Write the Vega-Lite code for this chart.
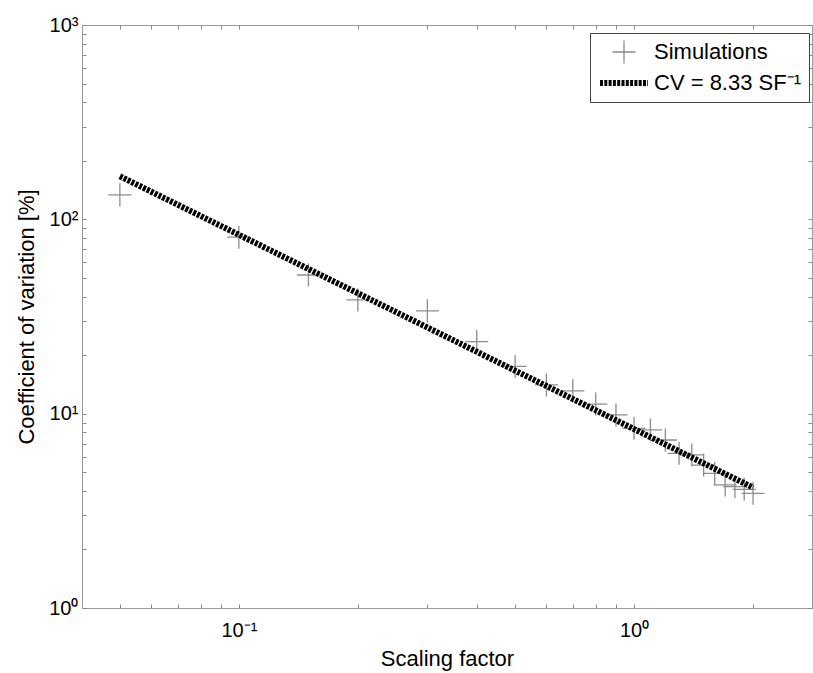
{
  "$schema": "https://vega.github.io/schema/vega-lite/v6.json",
  "width": 730,
  "height": 583,
  "autosize": {"type": "none"},
  "padding": {"left": 82, "top": 25, "right": 1, "bottom": 65},
  "background": "white",
  "config": {
    "view": {"stroke": "#9a9a9a", "strokeWidth": 1},
    "font": "Liberation Sans",
    "axis": {
      "grid": false,
      "domainColor": "#9a9a9a",
      "tickColor": "#8a8a8a",
      "tickSize": -4,
      "labelFont": "Liberation Sans",
      "labelFontSize": 20,
      "labelColor": "#000000",
      "labelOverlap": false,
      "labelFlush": false,
      "labelBound": false,
      "titleFont": "Liberation Sans",
      "titleFontSize": 22,
      "titleFontWeight": "normal",
      "titleColor": "#000000"
    }
  },
  "datasets": {
    "sim": [
      {"sf": 0.05, "cv": 133.6, "series": "Simulations"},
      {"sf": 0.1, "cv": 80.9, "series": "Simulations"},
      {"sf": 0.15, "cv": 51.7, "series": "Simulations"},
      {"sf": 0.2, "cv": 38.5, "series": "Simulations"},
      {"sf": 0.3, "cv": 33.8, "series": "Simulations"},
      {"sf": 0.4, "cv": 23.5, "series": "Simulations"},
      {"sf": 0.5, "cv": 17.5, "series": "Simulations"},
      {"sf": 0.6, "cv": 14.05, "series": "Simulations"},
      {"sf": 0.7, "cv": 13.1, "series": "Simulations"},
      {"sf": 0.8, "cv": 11.2, "series": "Simulations"},
      {"sf": 0.9, "cv": 9.85, "series": "Simulations"},
      {"sf": 1.0, "cv": 8.41, "series": "Simulations"},
      {"sf": 1.1, "cv": 8.25, "series": "Simulations"},
      {"sf": 1.2, "cv": 7.32, "series": "Simulations"},
      {"sf": 1.3, "cv": 6.25, "series": "Simulations"},
      {"sf": 1.4, "cv": 6.13, "series": "Simulations"},
      {"sf": 1.5, "cv": 5.44, "series": "Simulations"},
      {"sf": 1.6, "cv": 4.93, "series": "Simulations"},
      {"sf": 1.7, "cv": 4.3, "series": "Simulations"},
      {"sf": 1.8, "cv": 4.21, "series": "Simulations"},
      {"sf": 1.9, "cv": 4.08, "series": "Simulations"},
      {"sf": 2.0, "cv": 3.89, "series": "Simulations"}
    ],
    "fit": [
      {"sf": 0.05, "cv": 166.6, "series": "CV = 8.33 SF⁻¹"},
      {"sf": 2.0, "cv": 4.165, "series": "CV = 8.33 SF⁻¹"}
    ]
  },
  "layer": [
    {
      "data": {"name": "sim"},
      "mark": {"type": "point", "filled": false, "size": 2304, "opacity": 1},
      "encoding": {
        "x": {
          "field": "sf", "type": "quantitative",
          "scale": {"type": "log", "domain": [0.0401, 2.82], "nice": false},
          "axis": {
            "orient": "bottom",
            "values": [0.05, 0.06, 0.07, 0.08, 0.09, 0.1, 0.2, 0.3, 0.4, 0.5, 0.6, 0.7, 0.8, 0.9, 1, 2],
            "labelExpr": "datum.value == 0.1 ? '10⁻¹' : datum.value == 1 ? '10⁰' : ''",
            "labelPadding": 16,
            "title": "Scaling factor",
            "titlePadding": 8
          }
        },
        "y": {
          "field": "cv", "type": "quantitative",
          "scale": {"type": "log", "domain": [1, 1000], "nice": false},
          "axis": {
            "orient": "left",
            "values": [1, 2, 3, 4, 5, 6, 7, 8, 9, 10, 20, 30, 40, 50, 60, 70, 80, 90, 100, 200, 300, 400, 500, 600, 700, 800, 900, 1000],
            "labelExpr": "datum.value == 1 ? '10⁰' : datum.value == 10 ? '10¹' : datum.value == 100 ? '10²' : datum.value == 1000 ? '10³' : ''",
            "labelPadding": 8,
            "title": "Coefficient of variation [%]",
            "titlePadding": 10
          }
        },
        "color": {
          "field": "series", "type": "nominal",
          "scale": {"domain": ["Simulations", "CV = 8.33 SF⁻¹"], "range": ["#8c8c8c", "#000000"]},
          "legend": {
            "title": null,
            "orient": "none",
            "legendX": 508,
            "legendY": 8,
            "strokeColor": "#444444",
            "fillColor": "#ffffff",
            "padding": 7,
            "labelFont": "Liberation Sans",
            "labelFontSize": 22,
            "labelColor": "#000000",
            "labelLimit": 300,
            "symbolSize": 2304,
            "clipHeight": 24,
            "rowPadding": 7,
            "labelOffset": 3
          }
        },
        "shape": {
          "field": "series", "type": "nominal",
          "scale": {"domain": ["Simulations", "CV = 8.33 SF⁻¹"], "range": ["M-0.48,0L0.48,0M0,-0.48L0,0.48", "M-1,0L1,0"]},
          "legend": {"title": null}
        },
        "strokeWidth": {
          "field": "series", "type": "nominal",
          "scale": {"type": "point", "padding": 0, "domain": ["Simulations", "CV = 8.33 SF⁻¹"], "range": [1.3, 6]},
          "legend": {"title": null}
        },
        "strokeDash": {
          "field": "series", "type": "nominal",
          "scale": {"domain": ["Simulations", "CV = 8.33 SF⁻¹"], "range": [[1, 0], [3, 1.3]]},
          "legend": {"title": null}
        }
      }
    },
    {
      "data": {"name": "fit"},
      "mark": {"type": "line", "strokeCap": "butt"},
      "encoding": {
        "x": {
          "field": "sf", "type": "quantitative",
          "axis": {
            "orient": "top",
            "values": [0.05, 0.06, 0.07, 0.08, 0.09, 0.1, 0.2, 0.3, 0.4, 0.5, 0.6, 0.7, 0.8, 0.9, 1, 2],
            "labels": false,
            "title": null
          }
        },
        "y": {
          "field": "cv", "type": "quantitative",
          "axis": {
            "orient": "right",
            "values": [1, 2, 3, 4, 5, 6, 7, 8, 9, 10, 20, 30, 40, 50, 60, 70, 80, 90, 100, 200, 300, 400, 500, 600, 700, 800, 900, 1000],
            "labels": false,
            "title": null
          }
        },
        "color": {"field": "series", "type": "nominal"},
        "strokeWidth": {"field": "series", "type": "nominal"},
        "strokeDash": {"field": "series", "type": "nominal"}
      }
    }
  ],
  "resolve": {"axis": {"x": "independent", "y": "independent"}}
}
